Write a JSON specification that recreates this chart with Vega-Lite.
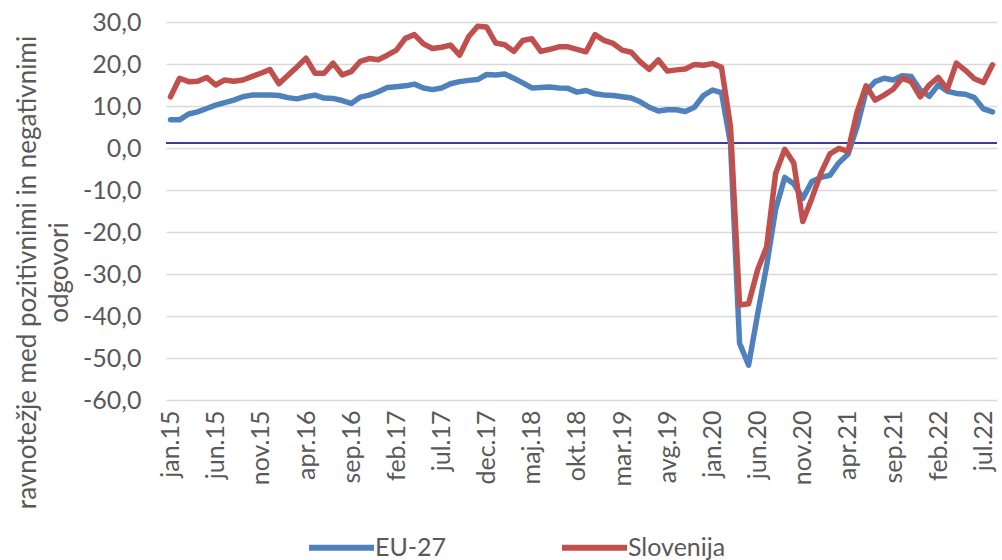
{
  "$schema": "https://vega.github.io/schema/vega-lite/v6.json",
  "autosize": {"type": "none"},
  "padding": {"left": 166, "top": 22, "right": 5, "bottom": 160},
  "width": 831,
  "height": 378,
  "background": "white",
  "config": {
    "view": {"stroke": null},
    "font": "Lato",
    "axis": {"labelFont": "Lato", "titleFont": "Lato", "labelColor": "#595959", "titleColor": "#595959"},
    "legend": {"labelFont": "Lato", "labelColor": "#595959"}
  },
  "data": {
    "values": [
      {"m": "jan.15", "EU-27": 6.7, "Slovenija": 12.2},
      {"m": "feb.15", "EU-27": 6.7, "Slovenija": 16.6},
      {"m": "mar.15", "EU-27": 8.1, "Slovenija": 15.8},
      {"m": "apr.15", "EU-27": 8.6, "Slovenija": 15.9},
      {"m": "maj.15", "EU-27": 9.4, "Slovenija": 16.8},
      {"m": "jun.15", "EU-27": 10.2, "Slovenija": 15.0},
      {"m": "jul.15", "EU-27": 10.8, "Slovenija": 16.2},
      {"m": "avg.15", "EU-27": 11.4, "Slovenija": 15.9},
      {"m": "sep.15", "EU-27": 12.2, "Slovenija": 16.2},
      {"m": "okt.15", "EU-27": 12.6, "Slovenija": 17.0},
      {"m": "nov.15", "EU-27": 12.6, "Slovenija": 17.8},
      {"m": "dec.15", "EU-27": 12.6, "Slovenija": 18.7},
      {"m": "jan.16", "EU-27": 12.5, "Slovenija": 15.3},
      {"m": "feb.16", "EU-27": 12.0, "Slovenija": 17.3},
      {"m": "mar.16", "EU-27": 11.7, "Slovenija": 19.3},
      {"m": "apr.16", "EU-27": 12.2, "Slovenija": 21.4},
      {"m": "maj.16", "EU-27": 12.6, "Slovenija": 17.8},
      {"m": "jun.16", "EU-27": 11.9, "Slovenija": 17.8},
      {"m": "jul.16", "EU-27": 11.8, "Slovenija": 20.2},
      {"m": "avg.16", "EU-27": 11.3, "Slovenija": 17.4},
      {"m": "sep.16", "EU-27": 10.6, "Slovenija": 18.2},
      {"m": "okt.16", "EU-27": 12.1, "Slovenija": 20.6},
      {"m": "nov.16", "EU-27": 12.6, "Slovenija": 21.3},
      {"m": "dec.16", "EU-27": 13.4, "Slovenija": 21.0},
      {"m": "jan.17", "EU-27": 14.4, "Slovenija": 22.1},
      {"m": "feb.17", "EU-27": 14.6, "Slovenija": 23.3},
      {"m": "mar.17", "EU-27": 14.8, "Slovenija": 26.1},
      {"m": "apr.17", "EU-27": 15.2, "Slovenija": 27.0},
      {"m": "maj.17", "EU-27": 14.3, "Slovenija": 24.8},
      {"m": "jun.17", "EU-27": 13.9, "Slovenija": 23.7},
      {"m": "jul.17", "EU-27": 14.3, "Slovenija": 24.0},
      {"m": "avg.17", "EU-27": 15.3, "Slovenija": 24.5},
      {"m": "sep.17", "EU-27": 15.8, "Slovenija": 22.1},
      {"m": "okt.17", "EU-27": 16.1, "Slovenija": 26.5},
      {"m": "nov.17", "EU-27": 16.3, "Slovenija": 29.0},
      {"m": "dec.17", "EU-27": 17.5, "Slovenija": 28.8},
      {"m": "jan.18", "EU-27": 17.4, "Slovenija": 25.0},
      {"m": "feb.18", "EU-27": 17.6, "Slovenija": 24.6},
      {"m": "mar.18", "EU-27": 16.6, "Slovenija": 23.0},
      {"m": "apr.18", "EU-27": 15.5, "Slovenija": 25.6},
      {"m": "maj.18", "EU-27": 14.3, "Slovenija": 26.0},
      {"m": "jun.18", "EU-27": 14.4, "Slovenija": 23.0},
      {"m": "jul.18", "EU-27": 14.5, "Slovenija": 23.5},
      {"m": "avg.18", "EU-27": 14.3, "Slovenija": 24.1},
      {"m": "sep.18", "EU-27": 14.2, "Slovenija": 24.1},
      {"m": "okt.18", "EU-27": 13.3, "Slovenija": 23.5},
      {"m": "nov.18", "EU-27": 13.7, "Slovenija": 22.9},
      {"m": "dec.18", "EU-27": 12.9, "Slovenija": 27.0},
      {"m": "jan.19", "EU-27": 12.6, "Slovenija": 25.6},
      {"m": "feb.19", "EU-27": 12.5, "Slovenija": 24.9},
      {"m": "mar.19", "EU-27": 12.2, "Slovenija": 23.3},
      {"m": "apr.19", "EU-27": 11.9, "Slovenija": 22.8},
      {"m": "maj.19", "EU-27": 11.0, "Slovenija": 20.5},
      {"m": "jun.19", "EU-27": 9.7, "Slovenija": 18.7},
      {"m": "jul.19", "EU-27": 8.8, "Slovenija": 21.0},
      {"m": "avg.19", "EU-27": 9.1, "Slovenija": 18.3},
      {"m": "sep.19", "EU-27": 9.1, "Slovenija": 18.6},
      {"m": "okt.19", "EU-27": 8.7, "Slovenija": 18.8},
      {"m": "nov.19", "EU-27": 9.7, "Slovenija": 19.9},
      {"m": "dec.19", "EU-27": 12.5, "Slovenija": 19.7},
      {"m": "jan.20", "EU-27": 13.8, "Slovenija": 20.1},
      {"m": "feb.20", "EU-27": 13.2, "Slovenija": 19.2},
      {"m": "mar.20", "EU-27": 1.0, "Slovenija": 5.0},
      {"m": "apr.20", "EU-27": -46.5, "Slovenija": -37.4},
      {"m": "maj.20", "EU-27": -51.7, "Slovenija": -37.1},
      {"m": "jun.20", "EU-27": -39.5, "Slovenija": -29.0},
      {"m": "jul.20", "EU-27": -28.0, "Slovenija": -23.5},
      {"m": "avg.20", "EU-27": -14.5, "Slovenija": -6.0},
      {"m": "sep.20", "EU-27": -7.0, "Slovenija": -0.3},
      {"m": "okt.20", "EU-27": -8.5, "Slovenija": -3.6},
      {"m": "nov.20", "EU-27": -12.0, "Slovenija": -17.5},
      {"m": "dec.20", "EU-27": -8.0, "Slovenija": -12.0},
      {"m": "jan.21", "EU-27": -7.0, "Slovenija": -6.0},
      {"m": "feb.21", "EU-27": -6.5, "Slovenija": -1.4},
      {"m": "mar.21", "EU-27": -3.5, "Slovenija": -0.1},
      {"m": "apr.21", "EU-27": -1.5, "Slovenija": -0.8},
      {"m": "maj.21", "EU-27": 5.0, "Slovenija": 8.5},
      {"m": "jun.21", "EU-27": 13.5, "Slovenija": 14.8},
      {"m": "jul.21", "EU-27": 15.8, "Slovenija": 11.4},
      {"m": "avg.21", "EU-27": 16.6, "Slovenija": 12.6},
      {"m": "sep.21", "EU-27": 16.2, "Slovenija": 14.0},
      {"m": "okt.21", "EU-27": 17.2, "Slovenija": 16.6},
      {"m": "nov.21", "EU-27": 17.0, "Slovenija": 15.8},
      {"m": "dec.21", "EU-27": 13.8, "Slovenija": 12.2},
      {"m": "jan.22", "EU-27": 12.3, "Slovenija": 15.0},
      {"m": "feb.22", "EU-27": 15.0, "Slovenija": 16.8},
      {"m": "mar.22", "EU-27": 13.5, "Slovenija": 14.0},
      {"m": "apr.22", "EU-27": 13.0, "Slovenija": 20.2},
      {"m": "maj.22", "EU-27": 12.8, "Slovenija": 18.5},
      {"m": "jun.22", "EU-27": 12.0, "Slovenija": 16.5},
      {"m": "jul.22", "EU-27": 9.3, "Slovenija": 15.6},
      {"m": "avg.22", "EU-27": 8.6, "Slovenija": 19.8}
    ]
  },
  "layer": [
    {
      "mark": {"type": "rule", "stroke": "#3c3ca0", "strokeWidth": 1.2},
      "encoding": {"y": {"datum": 1.1, "type": "quantitative"}}
    },
    {
      "transform": [{"fold": ["EU-27", "Slovenija"], "as": ["serija", "vrednost"]}],
      "mark": {"type": "line", "strokeWidth": 5.5, "strokeCap": "round", "strokeJoin": "round"},
      "encoding": {
        "x": {
          "field": "m",
          "type": "ordinal",
          "sort": null,
          "scale": {"type": "point", "padding": 0.5},
          "axis": {
            "title": null,
            "values": ["jan.15", "jun.15", "nov.15", "apr.16", "sep.16", "feb.17", "jul.17", "dec.17", "maj.18", "okt.18", "mar.19", "avg.19", "jan.20", "jun.20", "nov.20", "apr.21", "sep.21", "feb.22", "jul.22"],
            "labelAngle": -90,
            "labelFontSize": 25,
            "labelPadding": 10,
            "ticks": false,
            "domain": false,
            "grid": false
          }
        },
        "y": {
          "field": "vrednost",
          "type": "quantitative",
          "scale": {"domain": [-60, 30], "nice": false, "zero": false},
          "axis": {
            "values": [-60, -50, -40, -30, -20, -10, 0, 10, 20, 30],
            "labelExpr": "replace(replace(format(datum.value, '.1f'), '.', ','), '\u2212', '-')",
            "labelFontSize": 25,
            "labelPadding": 25,
            "ticks": false,
            "domain": false,
            "grid": true,
            "gridColor": "#d9d9d9",
            "gridWidth": 1.5,
            "title": ["ravnotežje med pozitivnimi in negativnimi", "odgovori"],
            "titleFontSize": 26,
            "titleFontWeight": "normal",
            "titleAngle": -90,
            "titleAlign": "center",
            "titleBaseline": "top",
            "titleLineHeight": 32,
            "titleX": -152,
            "titleY": 250
          }
        },
        "color": {
          "field": "serija",
          "type": "nominal",
          "sort": ["EU-27", "Slovenija"],
          "scale": {"domain": ["EU-27", "Slovenija"], "range": ["#4f81bd", "#c0504d"]},
          "legend": {
            "title": null,
            "orient": "none",
            "direction": "horizontal",
            "legendX": 140,
            "legendY": 490,
            "symbolType": "stroke",
            "symbolSize": 4225,
            "symbolStrokeWidth": 6,
            "labelFontSize": 25,
            "labelOffset": -2,
            "columnPadding": 103
          }
        }
      }
    }
  ]
}
